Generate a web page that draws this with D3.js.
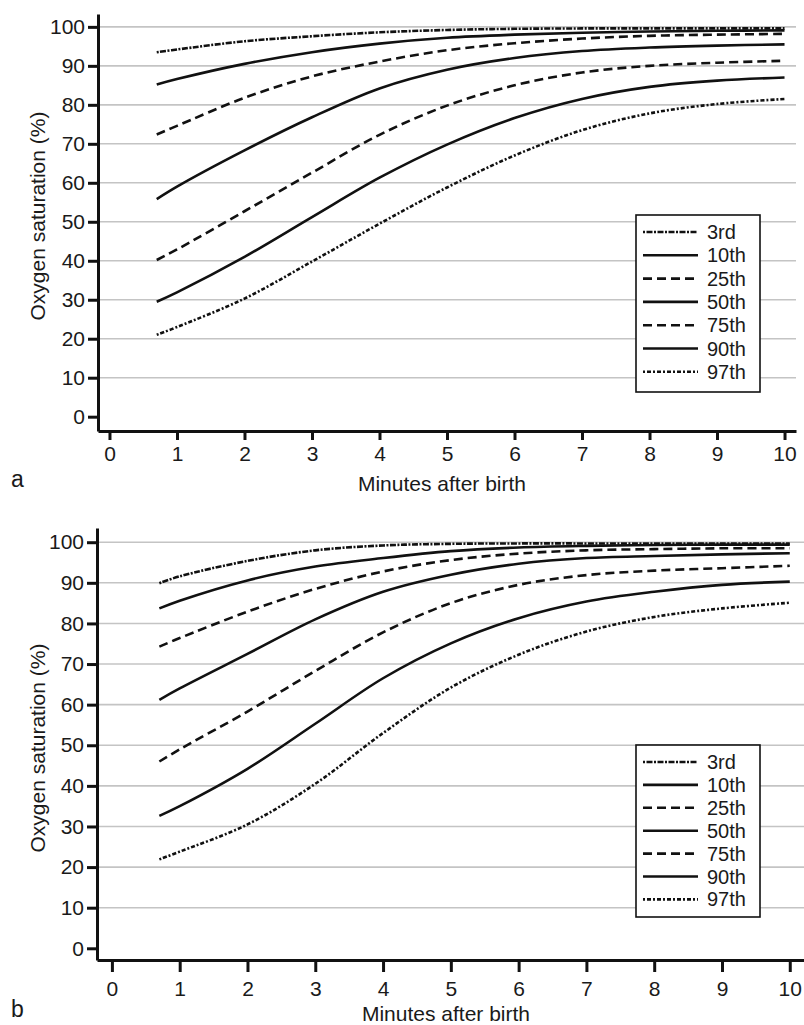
<!DOCTYPE html>
<html>
<head>
<meta charset="utf-8">
<script src="https://cdn.jsdelivr.net/npm/d3@7"></script>
<style>
    body { margin: 0; background: #fff; }
    svg { display: block; font-family: "Liberation Sans", Arial, Helvetica, sans-serif; }
</style>
</head>
<body>
<svg id="chart" width="804" height="1025"></svg>
<script>
// Time points (minutes after birth) where the curves were read
const minutes = [0.7, 1, 2, 3, 4, 5, 6, 7, 8, 9, 10];
const percentiles = ["3rd", "10th", "25th", "50th", "75th", "90th", "97th"];
const yTicks = d3.range(0, 101, 10);
const xTicks = d3.range(0, 11, 1);

// Panel a - curves listed top to bottom, in legend order
const a3rd  = [93.5, 94.2, 96.3, 97.6, 98.6, 99.2, 99.5, 99.6, 99.6, 99.6, 99.6];
const a10th = [85.2, 86.6, 90.5, 93.5, 95.7, 97.2, 98.0, 98.5, 98.8, 99.0, 99.1];
const a25th = [72.4, 74.6, 81.8, 87.3, 91.1, 94.0, 95.8, 97.0, 97.7, 98.0, 98.2];
const a50th = [55.8, 59.0, 68.3, 76.8, 84.2, 89.0, 92.0, 93.8, 94.7, 95.2, 95.5];
const a75th = [40.2, 42.9, 52.7, 62.6, 72.3, 79.8, 85.0, 88.3, 90.0, 90.8, 91.3];
const a90th = [29.5, 31.9, 41.0, 51.2, 61.3, 69.8, 76.6, 81.5, 84.6, 86.2, 87.0];
const a97th = [21.0, 23.0, 30.3, 39.8, 49.5, 58.8, 67.0, 73.5, 77.8, 80.2, 81.5];

// Panel b
const b3rd  = [89.9, 91.6, 95.4, 98.0, 99.2, 99.6, 99.7, 99.7, 99.7, 99.7, 99.7];
const b10th = [83.7, 85.6, 90.6, 94.0, 96.1, 97.8, 98.7, 99.1, 99.3, 99.4, 99.4];
const b25th = [74.3, 76.4, 82.9, 88.5, 92.8, 95.6, 97.2, 98.0, 98.3, 98.5, 98.5];
const b50th = [61.2, 64.0, 72.5, 81.0, 87.8, 92.0, 94.7, 96.1, 96.6, 97.0, 97.3];
const b75th = [46.0, 49.0, 58.3, 68.3, 77.8, 85.0, 89.5, 91.9, 93.0, 93.6, 94.2];
const b90th = [32.6, 35.0, 44.2, 55.3, 66.5, 75.1, 81.3, 85.4, 87.8, 89.5, 90.3];
const b97th = [21.9, 23.8, 30.5, 40.5, 53.0, 64.2, 72.3, 78.0, 81.6, 83.7, 85.1];

// Line style per legend entry
const dash = {
    "3rd": "2,1.5,6,1.5",
    "10th": null,
    "25th": "9,5",
    "50th": null,
    "75th": "9,5",
    "90th": null,
    "97th": "2,2,4,2"
};

const svg = d3.select("#chart");

function drawPanel(cfg, values) {
    const g = svg.append("g");

    const x = d3.scaleLinear().domain(cfg.xDomain).range([cfg.left, cfg.right]);
    const y = d3.scaleLinear().domain(cfg.yDomain).range([cfg.bottom, cfg.top]);

    // Grid lines
    g.append("g")
        .selectAll("line")
        .data(yTicks.filter(d => d > 0))
        .join("line")
        .attr("x1", cfg.left)
        .attr("x2", cfg.right)
        .attr("y1", d => y(d))
        .attr("y2", d => y(d))
        .attr("stroke", "#c4c4c4")
        .attr("stroke-width", 1.6);

    // Curves
    const line = d3.line()
        .x(d => x(d[0]))
        .y(d => y(d[1]))
        .curve(d3.curveCatmullRom.alpha(0.5));

    const series = percentiles.map((p, i) => ({
        name: p,
        points: minutes.map((m, j) => [m, values[i][j]])
    }));

    g.append("g")
        .selectAll("path")
        .data(series)
        .join("path")
        .attr("d", d => line(d.points))
        .attr("fill", "none")
        .attr("stroke", "#111")
        .attr("stroke-width", 2.6)
        .attr("stroke-dasharray", d => dash[d.name]);

    // Axes
    const yAxis = g.append("g")
        .attr("transform", `translate(${cfg.left},0)`)
        .call(d3.axisLeft(y).tickValues(yTicks).tickSize(10).tickSizeOuter(0).tickPadding(3));

    const xAxis = g.append("g")
        .attr("transform", `translate(0,${cfg.bottom})`)
        .call(d3.axisBottom(x).tickValues(xTicks).tickSize(cfg.xTick).tickSizeOuter(0).tickPadding(cfg.xPad));

    [yAxis, xAxis].forEach(a => {
        a.select(".domain").attr("stroke", "#111").attr("stroke-width", 3);
        a.selectAll(".tick line").attr("stroke", "#111").attr("stroke-width", 3);
        a.selectAll(".tick text")
            .attr("fill", "#1a1a1a")
            .style("font-size", "21px")
            .style("font-family", "'Liberation Sans', Arial, sans-serif");
    });

    // Axis titles
    g.append("text")
        .attr("transform", `translate(45,${cfg.yTitleY}) rotate(-90)`)
        .attr("text-anchor", "middle")
        .attr("fill", "#1a1a1a")
        .style("font-size", "21px")
        .text("Oxygen saturation (%)");

    g.append("text")
        .attr("x", cfg.xTitleX)
        .attr("y", cfg.xTitleY)
        .attr("text-anchor", "middle")
        .attr("fill", "#1a1a1a")
        .style("font-size", "21px")
        .text("Minutes after birth");

    // Panel letter
    g.append("text")
        .attr("x", 11)
        .attr("y", cfg.letterY)
        .attr("fill", "#1a1a1a")
        .style("font-size", "23px")
        .text(cfg.letter);

    // Legend
    const lg = g.append("g");
    lg.append("rect")
        .attr("x", cfg.legend.x)
        .attr("y", cfg.legend.y)
        .attr("width", cfg.legend.w)
        .attr("height", cfg.legend.h)
        .attr("fill", "#fff")
        .attr("stroke", "#111")
        .attr("stroke-width", 1.6);

    const rows = lg.selectAll("g.row")
        .data(percentiles)
        .join("g")
        .attr("class", "row")
        .attr("transform", (d, i) => `translate(0,${cfg.legend.first + i * cfg.legend.step})`);

    rows.append("line")
        .attr("x1", cfg.legend.x + 7)
        .attr("x2", cfg.legend.x + 62)
        .attr("stroke", "#111")
        .attr("stroke-width", 2.6)
        .attr("stroke-dasharray", d => dash[d]);

    rows.append("text")
        .attr("x", cfg.legend.x + 71)
        .attr("dy", "0.35em")
        .attr("fill", "#1a1a1a")
        .style("font-size", "20px")
        .text(d => d);
}

drawPanel({
    letter: "a",
    left: 98, right: 796, top: 14, bottom: 431,
    xDomain: [-0.17, 10.17], yDomain: [-3.67, 103.3],
    xTick: 9, xPad: 6,
    yTitleY: 216, xTitleX: 442, xTitleY: 491, letterY: 487,
    legend: { x: 636, y: 215, w: 124, h: 177, first: 232, step: 23.3 }
}, [a3rd, a10th, a25th, a50th, a75th, a90th, a97th]);

drawPanel({
    letter: "b",
    left: 97, right: 804, top: 528, bottom: 960,
    xDomain: [-0.22, 10.21], yDomain: [-2.88, 103.5],
    xTick: 12, xPad: 9,
    yTitleY: 748, xTitleX: 446, xTitleY: 1021, letterY: 1017,
    legend: { x: 636, y: 745, w: 124, h: 172, first: 762, step: 22.9 }
}, [b3rd, b10th, b25th, b50th, b75th, b90th, b97th]);
</script>
</body>
</html>
